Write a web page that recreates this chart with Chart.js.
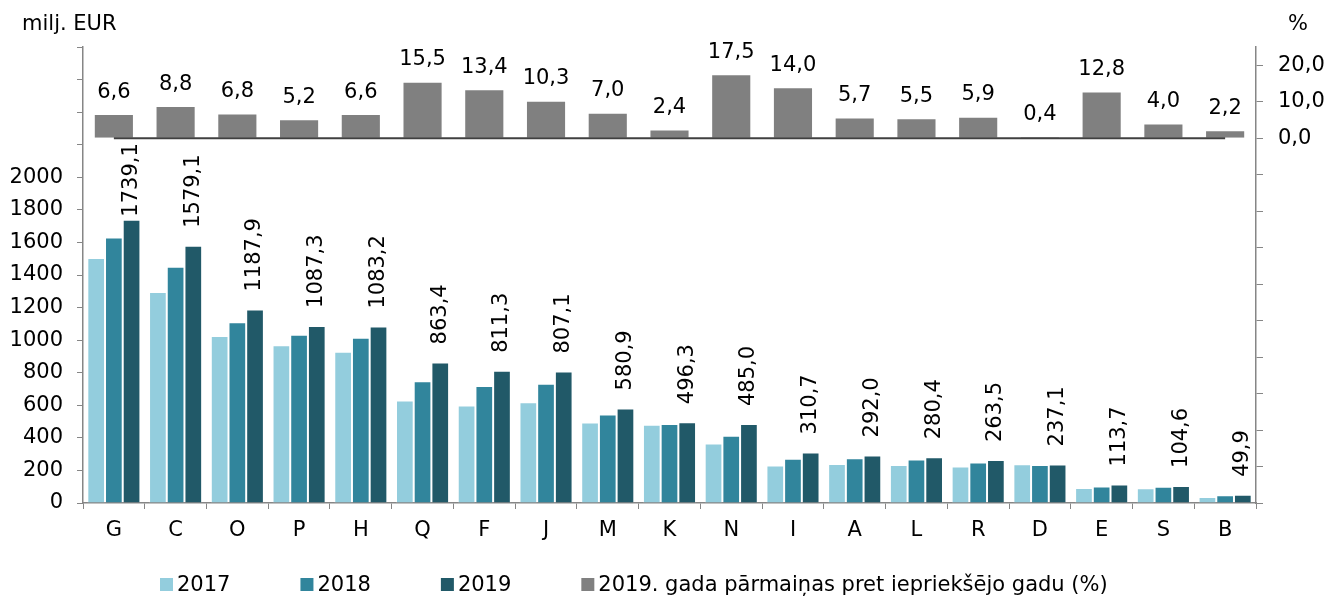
<!DOCTYPE html>
<html>
<head>
<meta charset="utf-8">
<script src="https://cdn.jsdelivr.net/npm/chart.js@4.4.1/dist/chart.umd.min.js"></script>
<style>
  html, body { margin: 0; padding: 0; background: #fff; }
</style>
</head>
<body>
<canvas id="chart" width="1326" height="596"></canvas>
<script>
// dati
const categories = ['G', 'C', 'O', 'P', 'H', 'Q', 'F', 'J', 'M', 'K', 'N', 'I', 'A', 'L', 'R', 'D', 'E', 'S', 'B'];
const values2017 = [1505, 1295, 1025, 968, 928, 630, 598, 618, 495, 480, 365, 230, 240, 233, 224, 238, 92, 90, 37];
const values2018 = [1630, 1450, 1110, 1033, 1015, 748, 718, 732, 544, 485, 413, 271, 275, 267, 249, 234, 102, 100, 47];
const values2019 = [1739.1, 1579.1, 1187.9, 1087.3, 1083.2, 863.4, 811.3, 807.1, 580.9, 496.3, 485.0, 310.7, 292.0, 280.4, 263.5, 237.1, 113.7, 104.6, 49.9];
const change2019 = [6.6, 8.8, 6.8, 5.2, 6.6, 15.5, 13.4, 10.3, 7.0, 2.4, 17.5, 14.0, 5.7, 5.5, 5.9, 0.4, 12.8, 4.0, 2.2];
const seriesLabels = ['2017', '2018', '2019', '2019. gada pārmaiņas pret iepriekšējo gadu (%)'];
const leftTicks = [0, 200, 400, 600, 800, 1000, 1200, 1400, 1600, 1800, 2000, 2200, 2400, 2600, 2800];
const rightTicks = [-100, -90, -80, -70, -60, -50, -40, -30, -20, -10, 0, 10, 20];

const FONT = '"DejaVu Sans", Verdana, sans-serif';
const AXIS = '#868686';

Chart.defaults.font.family = FONT;
Chart.defaults.font.size = 21;
Chart.defaults.color = '#000';

function fmt(v) {
    return v.toFixed(1).replace('.', ',');
}

// etiķetes, nulles līnija, virsraksti un leģenda
const extras = {
    id: 'extras',
    afterDatasetsDraw(chart) {
        const ctx = chart.ctx;
        const x = chart.scales.x;
        const zeroY = chart.scales.y1.getPixelForValue(0);

        ctx.save();
        ctx.strokeStyle = '#404040';
        ctx.lineWidth = 2;
        ctx.beginPath();
        ctx.moveTo(x.getPixelForValue(0), zeroY);
        ctx.lineTo(x.getPixelForValue(categories.length - 1), zeroY);
        ctx.stroke();

        ctx.font = '21px ' + FONT;
        ctx.fillStyle = '#000';

        chart.getDatasetMeta(3).data.forEach((bar, i) => {
            ctx.textAlign = 'center';
            ctx.textBaseline = 'middle';
            ctx.fillText(fmt(change2019[i]), bar.x, bar.y - 22);
        });

        chart.getDatasetMeta(2).data.forEach((bar, i) => {
            const txt = fmt(values2019[i]);
            const w = ctx.measureText(txt).width;
            let start = bar.y - 18;
            if (start - w < zeroY + 5) start = zeroY + 5 + w;
            ctx.save();
            ctx.translate(bar.x, start);
            ctx.rotate(-Math.PI / 2);
            ctx.textAlign = 'left';
            ctx.textBaseline = 'middle';
            ctx.fillText(txt, 0, 0);
            ctx.restore();
        });
        ctx.restore();
    },
    afterDraw(chart) {
        const ctx = chart.ctx;
        ctx.save();
        ctx.font = '21px ' + FONT;
        ctx.fillStyle = '#000';
        ctx.textBaseline = 'middle';
        ctx.textAlign = 'left';
        ctx.fillText('milj. EUR', 22, 25);
        ctx.textAlign = 'center';
        ctx.fillText('%', 1298, 25);

        // leģenda
        let lx = 160;
        const ly = 585;
        ctx.textAlign = 'left';
        chart.data.datasets.forEach(ds => {
            ctx.fillStyle = ds.backgroundColor;
            ctx.fillRect(lx, ly - 7, 13, 13);
            ctx.fillStyle = '#000';
            ctx.fillText(ds.label, lx + 17, ly + 1);
            lx += 17 + ctx.measureText(ds.label).width + 70;
        });
        ctx.restore();
    }
};

new Chart(document.getElementById('chart'), {
    type: 'bar',
    data: {
        labels: categories,
        datasets: [
            {
                label: seriesLabels[0],
                data: values2017,
                backgroundColor: '#93CDDD',
                borderColor: 'rgba(255,255,255,0.5)',
                borderWidth: 1,
                yAxisID: 'y',
                categoryPercentage: 0.86,
                barPercentage: 1
            },
            {
                label: seriesLabels[1],
                data: values2018,
                backgroundColor: '#31859C',
                borderColor: 'rgba(255,255,255,0.4)',
                borderWidth: 1,
                yAxisID: 'y',
                categoryPercentage: 0.86,
                barPercentage: 1
            },
            {
                label: seriesLabels[2],
                data: values2019,
                backgroundColor: '#215968',
                borderColor: 'rgba(255,255,255,0.3)',
                borderWidth: 1,
                yAxisID: 'y',
                categoryPercentage: 0.86,
                barPercentage: 1
            },
            {
                label: seriesLabels[3],
                data: change2019,
                backgroundColor: '#808080',
                borderColor: 'rgba(255,255,255,0.4)',
                borderWidth: 1,
                yAxisID: 'y1',
                grouped: false,
                categoryPercentage: 0.65,
                barPercentage: 1
            }
        ]
    },
    options: {
        responsive: false,
        animation: false,
        layout: { padding: { top: 47, bottom: 48, left: 0, right: 0 } },
        plugins: {
            legend: { display: false },
            tooltip: { enabled: false }
        },
        scales: {
            x: {
                offset: true,
                grid: { offset: true, drawOnChartArea: false, tickLength: 6, color: AXIS },
                border: { color: AXIS, width: 1.5 },
                ticks: { padding: 9, maxRotation: 0, autoSkip: false },
                afterFit(s) { s.height = 45; }
            },
            y: {
                position: 'left',
                min: 0,
                max: 2800,
                afterBuildTicks(s) { s.ticks = leftTicks.map(v => ({ value: v })); },
                ticks: { padding: 14, callback: v => (v <= 2000 ? v : '') },
                grid: { drawOnChartArea: false, tickLength: 6, color: AXIS },
                border: { color: AXIS, width: 1.5 },
                afterFit(s) { s.width = 83; }
            },
            y1: {
                position: 'right',
                min: -100,
                max: 25,
                afterBuildTicks(s) { s.ticks = rightTicks.map(v => ({ value: v })); },
                ticks: { padding: 15, callback: v => (v >= 0 ? fmt(v) : '') },
                grid: { drawOnChartArea: false, tickLength: 7, color: AXIS },
                border: { color: AXIS, width: 1.5 },
                afterFit(s) { s.width = 70; }
            }
        }
    },
    plugins: [extras]
});
</script>
</body>
</html>
